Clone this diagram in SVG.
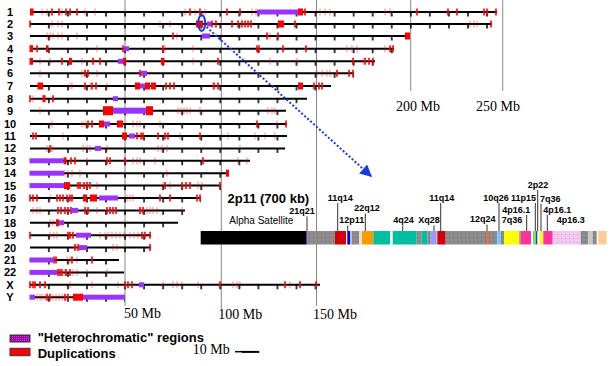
<svg xmlns="http://www.w3.org/2000/svg" width="610" height="366" viewBox="0 0 610 366">
<style>
.c{stroke:#000;stroke-width:2}
.t{fill:url(#tk)}
.s{stroke:#f00;stroke-width:1.6;fill:none}
.k{stroke:#f00;stroke-width:1.6;fill:none;opacity:.3}
.d{fill:#f00}
.h{fill:#9933ff}
.n{font:bold 11px "Liberation Sans",Arial,sans-serif;text-anchor:middle}
.g{stroke:#888;stroke-width:1}
.mb{font:14px "Liberation Serif","Times New Roman",serif}
.bl{font:bold 9px "Liberation Sans",Arial,sans-serif}
.ll{stroke:#333;stroke-width:1}
.lg{font:bold 13px "Liberation Sans",Arial,sans-serif}
</style>
<defs>
<pattern id="tk" patternUnits="userSpaceOnUse" x="20.275" y="0" width="19.05" height="20"><rect x="8.775" y="0" width="1.5" height="20" fill="#000"/></pattern>
<pattern id="gd" patternUnits="userSpaceOnUse" width="4" height="4"><rect width="4" height="4" fill="#8c8c8c"/><rect x="1" y="1" width="1" height="1" fill="#6e6e6e"/></pattern>
<pattern id="lv" patternUnits="userSpaceOnUse" width="4" height="4"><rect width="4" height="4" fill="#f0c8f0"/><rect x="1" y="2" width="1" height="1" fill="#e890e0"/></pattern>
<pattern id="hp" patternUnits="userSpaceOnUse" width="2" height="2"><rect width="2" height="2" fill="#9900aa"/><rect width="1" height="1" fill="#cc44cc"/></pattern>
<marker id="ar" markerUnits="userSpaceOnUse" markerWidth="14" markerHeight="12" refX="12" refY="6" orient="auto"><path d="M0,0 L12,6 L0,12 Z" fill="#1a3ae0"/></marker>
</defs>

<g id="grid">
<line class="g" x1="125" y1="0" x2="125" y2="306"/>
<line class="g" x1="221.3" y1="0" x2="221.3" y2="310"/>
<line class="g" x1="316.5" y1="0" x2="316.5" y2="306"/>
<line class="g" x1="410.7" y1="0" x2="410.7" y2="91"/>
<line class="g" x1="502.7" y1="0" x2="502.7" y2="91"/>
<text class="mb" x="124" y="318">50 Mb</text>
<text class="mb" x="218.3" y="319">100 Mb</text>
<text class="mb" x="313" y="319">150 Mb</text>
<text class="mb" x="396" y="111">200 Mb</text>
<text class="mb" x="476" y="111">250 Mb</text>
</g>

<g id="chr1" transform="translate(0,12)">
<line class="c" x1="30" x2="497"/><rect class="t" x="40" width="457" height="4.5"/>
<path class="k" d="M42-3.5v7M47-3.5v7M62-3.5v7M85-3.5v7M95-3.5v7M185-3.5v7M195-3.5v7M205-3.5v7M252-3.5v7M256-3.5v7M320-3.5v7M325-3.5v7M330-3.5v7M385-3.5v7M390-3.5v7"/>
<path class="s" d="M52-3.5v7M59-3.5v7M66-3.5v7M70-3.5v7M77-3.5v7M190-3.5v7M200-3.5v7M227-3.5v7M240-3.5v7M305-3.5v7M417-3.5v7M448-3.5v7M457-3.5v7M484-3.5v7M487-3.5v7M496-3.5v7"/>
<rect class="d" x="30" y="-3.5" width="3.5" height="7"/><rect class="d" x="298" y="-3.5" width="5" height="7"/>
<rect class="h" x="257" y="-2.5" width="41" height="5"/>
<text class="n" x="10" y="4">1</text>
</g>

<g id="chr2" transform="translate(0,24)">
<line class="c" x1="30" x2="492"/><rect class="t" x="40" width="452" height="4.5"/>
<path class="k" d="M52-3.5v7M58-3.5v7M62-3.5v7M160-3.5v7M170-3.5v7M470-3.5v7M474-3.5v7M477-3.5v7"/>
<path class="s" d="M30-3.5v7M212-3.5v7M216-3.5v7M232-3.5v7M238-3.5v7M242-3.5v7M245-3.5v7M248-3.5v7M251-3.5v7M295-3.5v7M491-3.5v7"/>
<rect class="d" x="196" y="-3.5" width="7" height="7"/><rect class="d" x="278" y="-3.5" width="6" height="7"/>
<rect class="h" x="207" y="-2.5" width="4" height="5"/>
<text class="n" x="10" y="4">2</text>
</g>

<g id="chr3" transform="translate(0,36)">
<line class="c" x1="30" x2="410"/><rect class="t" x="40" width="370" height="4.5"/>
<path class="k" d="M47-3.5v7M50-3.5v7M53-3.5v7M58-3.5v7M62-3.5v7M77-3.5v7M177-3.5v7M270-3.5v7"/>
<path class="s" d="M173-3.5v7M267-3.5v7M278-3.5v7"/>
<rect class="d" x="405" y="-3.5" width="5" height="7"/>
<rect class="h" x="201.7" y="-2.5" width="8.3" height="5"/>
<text class="n" x="10" y="4">3</text>
</g>

<g id="chr4" transform="translate(0,48.7)">
<line class="c" x1="30" x2="394"/><rect class="t" x="40" width="354" height="4.5"/>
<path class="k" d="M97-3.5v7M165-3.5v7M193-3.5v7M347-3.5v7M352-3.5v7M357-3.5v7M385-3.5v7"/>
<path class="s" d="M37-3.5v7M123-3.5v7M163-3.5v7M257-3.5v7M259-3.5v7M283-3.5v7M306-3.5v7M390-3.5v7M393-3.5v7"/>
<rect class="d" x="29.5" y="-3.5" width="3.5" height="7"/><rect class="d" x="46" y="-3.5" width="2.5" height="7"/>
<rect class="h" x="124" y="-2.5" width="5" height="5"/>
<text class="n" x="10" y="4">4</text>
</g>

<g id="chr5" transform="translate(0,61.3)">
<line class="c" x1="30" x2="375"/><rect class="t" x="40" width="335" height="4.5"/>
<path class="k" d="M40-3.5v7M50-3.5v7M82-3.5v7M193-3.5v7M270-3.5v7M297-3.5v7M363-3.5v7"/>
<path class="s" d="M62-3.5v7M93-3.5v7M100-3.5v7M218-3.5v7M353-3.5v7M365-3.5v7M369-3.5v7M373-3.5v7"/>
<rect class="d" x="29.5" y="-3.5" width="3.5" height="7"/><rect class="d" x="69" y="-3.5" width="3" height="7"/><rect class="d" x="123" y="-3.5" width="3" height="7"/><rect class="d" x="161" y="-3.5" width="3.5" height="7"/>
<rect class="h" x="118" y="-2.5" width="5" height="5"/>
<text class="n" x="10" y="4">5</text>
</g>

<g id="chr6" transform="translate(0,73.3)">
<line class="c" x1="30" x2="354"/><rect class="t" x="40" width="314" height="4.5"/>
<path class="k" d="M40-3.5v7M82-3.5v7M97-3.5v7M317-3.5v7M322-3.5v7M327-3.5v7M330-3.5v7"/>
<path class="s" d="M85-3.5v7M88-3.5v7M140-3.5v7M337-3.5v7M349-3.5v7M353-3.5v7"/>
<rect class="h" x="141" y="-2.5" width="6" height="5"/>
<text class="n" x="10" y="4">6</text>
</g>

<g id="chr7" transform="translate(0,86)">
<line class="c" x1="30" x2="331"/><rect class="t" x="40" width="291" height="4.5"/>
<path class="k" d="M70-3.5v7M72-3.5v7M90-3.5v7M107-3.5v7M213-3.5v7"/>
<path class="s" d="M85-3.5v7M92-3.5v7M96-3.5v7M166-3.5v7M170-3.5v7M174-3.5v7M214-3.5v7M218-3.5v7M314-3.5v7M319-3.5v7M322-3.5v7"/>
<rect class="d" x="37.5" y="-3.5" width="5.5" height="7"/><rect class="d" x="135" y="-3.5" width="5" height="7"/><rect class="d" x="145" y="-3.5" width="5" height="7"/><rect class="d" x="151" y="-3.5" width="5" height="7"/><rect class="d" x="298" y="-3.5" width="5" height="7"/>
<rect class="h" x="140" y="-2.5" width="5" height="5"/>
<text class="n" x="10" y="4">7</text>
</g>

<g id="chr8" transform="translate(0,98.7)">
<line class="c" x1="30" x2="307"/><rect class="t" x="40" width="267" height="4.5"/>
<path class="k" d="M33-3.5v7"/>
<path class="s" d="M30-3.5v7M53-3.5v7"/>
<rect class="d" x="42.5" y="-3.5" width="3" height="7"/>
<rect class="h" x="113" y="-2.5" width="5" height="5"/>
<text class="n" x="10" y="4">8</text>
</g>

<g id="chr9" transform="translate(0,110.7)">
<line class="c" x1="30" x2="286"/><rect class="t" x="40" width="246" height="4.5"/>
<path class="k" d="M40-3.5v7M178-3.5v7M181-3.5v7M184-3.5v7M187-3.5v7M190-3.5v7M200-3.5v7M268-3.5v7M272-3.5v7M275-3.5v7"/>
<rect class="d" x="103" y="-4.5" width="10" height="9"/><rect class="d" x="146" y="-4.5" width="7" height="9"/>
<rect class="h" x="113" y="-3" width="33" height="6"/>
<text class="n" x="10" y="4">9</text>
</g>

<g id="chr10" transform="translate(0,124)">
<line class="c" x1="30" x2="287"/><rect class="t" x="40" width="247" height="4.5"/>
<path class="k" d="M52-3.5v7M82-3.5v7M85-3.5v7M133-3.5v7M137-3.5v7M140-3.5v7M160-3.5v7M277-3.5v7"/>
<path class="s" d="M88-3.5v7M92-3.5v7M257-3.5v7M286-3.5v7"/>
<rect class="d" x="99" y="-3.5" width="5" height="7"/><rect class="d" x="117" y="-3.5" width="6" height="7"/>
<rect class="h" x="104" y="-2.5" width="6" height="5"/>
<text class="n" x="10" y="4">10</text>
</g>

<g id="chr11" transform="translate(0,136)">
<line class="c" x1="30" x2="287"/><rect class="t" x="40" width="247" height="4.5"/>
<path class="k" d="M63-3.5v7M180-3.5v7M228-3.5v7M255-3.5v7M265-3.5v7M275-3.5v7"/>
<path class="s" d="M33-3.5v7M36-3.5v7M137-3.5v7M141-3.5v7M143-3.5v7M158-3.5v7M165-3.5v7M168-3.5v7M200-3.5v7"/>
<rect class="d" x="122" y="-3.5" width="5" height="7"/>
<rect class="h" x="129" y="-2.5" width="6" height="5"/>
<text class="n" x="10" y="4">11</text>
</g>

<g id="chr12" transform="translate(0,148.4)">
<line class="c" x1="30" x2="285"/><rect class="t" x="40" width="245" height="4.5"/>
<path class="k" d="M47-3.5v7M52-3.5v7M83-3.5v7M87-3.5v7M90-3.5v7M107-3.5v7M158-3.5v7M162-3.5v7M167-3.5v7M240-3.5v7"/>
<path class="s" d="M50-3.5v7"/>
<rect class="h" x="95" y="-2.5" width="6" height="5"/>
<text class="n" x="10" y="4">12</text>
</g>

<g id="chr13" transform="translate(0,160.8)">
<line class="c" x1="30" x2="250"/><rect class="t" x="40" width="210" height="4.5"/>
<path class="k" d="M87-3.5v7M133-3.5v7M137-3.5v7M140-3.5v7M155-3.5v7M238-3.5v7M247-3.5v7"/>
<path class="s" d="M71-3.5v7M75-3.5v7M107-3.5v7M110-3.5v7M125-3.5v7M203-3.5v7"/>
<rect class="d" x="63.5" y="-3.5" width="3" height="7"/>
<rect class="h" x="29.5" y="-2.5" width="34" height="5"/>
<text class="n" x="10" y="4">13</text>
</g>

<g id="chr14" transform="translate(0,173.2)">
<line class="c" x1="30" x2="229"/><rect class="t" x="40" width="189" height="4.5"/>
<path class="k" d="M65-3.5v7M68-3.5v7M72-3.5v7M80-3.5v7M167-3.5v7"/>
<rect class="d" x="226" y="-3.5" width="3" height="7"/>
<rect class="h" x="29.5" y="-2.5" width="34.5" height="5"/>
<text class="n" x="10" y="4">14</text>
</g>

<g id="chr15" transform="translate(0,185.6)">
<line class="c" x1="30" x2="221"/><rect class="t" x="40" width="181" height="4.5"/>
<path class="k" d="M97-3.5v7M163-3.5v7M170-3.5v7M198-3.5v7M202-3.5v7"/>
<path class="s" d="M78-3.5v7M80-3.5v7M84-3.5v7M87-3.5v7M90-3.5v7M165-3.5v7M182-3.5v7M186-3.5v7M190-3.5v7M220-3.5v7"/>
<rect class="d" x="64" y="-3.5" width="6" height="7"/>
<rect class="h" x="29.5" y="-2.5" width="34.5" height="5"/>
<text class="n" x="10" y="4">15</text>
</g>

<g id="chr16" transform="translate(0,198)">
<line class="c" x1="30" x2="201"/><rect class="t" x="40" width="161" height="4.5"/>
<path class="k" d="M50-3.5v7M127-3.5v7M130-3.5v7M133-3.5v7"/>
<path class="s" d="M30-3.5v7M33-3.5v7M37-3.5v7M57-3.5v7M60-3.5v7M63-3.5v7M67-3.5v7M70-3.5v7M72-3.5v7M160-3.5v7M170-3.5v7M197-3.5v7M200-3.5v7"/>
<rect class="d" x="83" y="-3.5" width="4" height="7"/><rect class="d" x="90" y="-3.5" width="7" height="7"/>
<rect class="h" x="99" y="-2.5" width="19" height="5"/>
<text class="n" x="10" y="4">16</text>
</g>

<g id="chr17" transform="translate(0,210.4)">
<line class="c" x1="30" x2="185"/><rect class="t" x="40" width="145" height="4.5"/>
<path class="k" d="M33-3.5v7M37-3.5v7M40-3.5v7M97-3.5v7M147-3.5v7M150-3.5v7M153-3.5v7M157-3.5v7M182-3.5v7"/>
<path class="s" d="M58-3.5v7M61-3.5v7M65-3.5v7M68-3.5v7M71-3.5v7M85-3.5v7M88-3.5v7M107-3.5v7M110-3.5v7M113-3.5v7M116-3.5v7M140-3.5v7M143-3.5v7"/>
<rect class="h" x="71" y="-2.5" width="7" height="5"/>
<text class="n" x="10" y="4">17</text>
</g>

<g id="chr18" transform="translate(0,222.8)">
<line class="c" x1="30" x2="178"/><rect class="t" x="40" width="138" height="4.5"/>
<path class="k" d="M50-3.5v7M53-3.5v7"/>
<rect class="d" x="56" y="-3.5" width="3" height="7"/>
<rect class="h" x="59" y="-2.5" width="5" height="5"/>
<text class="n" x="10" y="4">18</text>
</g>

<g id="chr19" transform="translate(0,235.2)">
<line class="c" x1="30" x2="151"/><rect class="t" x="40" width="111" height="4.5"/>
<path class="k" d="M50-3.5v7M54-3.5v7M57-3.5v7M100-3.5v7M105-3.5v7M108-3.5v7M112-3.5v7M116-3.5v7M120-3.5v7M124-3.5v7M130-3.5v7M134-3.5v7M138-3.5v7"/>
<path class="s" d="M30-3.5v7M68-3.5v7M70-3.5v7M73-3.5v7M142-3.5v7M145-3.5v7M150-3.5v7"/>
<rect class="h" x="76" y="-2.5" width="15" height="5"/>
<text class="n" x="10" y="4">19</text>
</g>

<g id="chr20" transform="translate(0,247.6)">
<line class="c" x1="30" x2="151"/><rect class="t" x="40" width="111" height="4.5"/>
<path class="k" d="M113-3.5v7M117-3.5v7"/>
<path class="s" d="M75-3.5v7M78-3.5v7M150-3.5v7"/>
<rect class="h" x="79" y="-2.5" width="8" height="5"/>
<text class="n" x="10" y="4">20</text>
</g>

<g id="chr21" transform="translate(0,260)">
<line class="c" x1="30" x2="119"/><rect class="t" x="40" width="79" height="4.5"/>
<path class="k" d="M67-3.5v7M70-3.5v7M77-3.5v7"/>
<path class="s" d="M54-3.5v7M56-3.5v7M72-3.5v7M92-3.5v7"/>
<rect class="h" x="29.5" y="-2.5" width="24.5" height="5"/>
<text class="n" x="10" y="4">21</text>
</g>

<g id="chr22" transform="translate(0,272.4)">
<line class="c" x1="30" x2="124"/><rect class="t" x="40" width="84" height="4.5"/>
<path class="k" d="M65-3.5v7M73-3.5v7M77-3.5v7M87-3.5v7M107-3.5v7"/>
<path class="s" d="M58-3.5v7M60-3.5v7M62-3.5v7M66-3.5v7M70-3.5v7"/>
<rect class="h" x="29.5" y="-2.5" width="27.5" height="5"/>
<text class="n" x="10" y="4">22</text>
</g>

<g id="chrX" transform="translate(0,284.8)">
<line class="c" x1="30" x2="320"/><rect class="t" x="40" width="280" height="4.5"/>
<path class="k" d="M70-3.5v7M92-3.5v7M118-3.5v7M163-3.5v7M173-3.5v7M177-3.5v7M182-3.5v7M198-3.5v7M233-3.5v7M237-3.5v7M240-3.5v7M290-3.5v7"/>
<path class="s" d="M30-3.5v7M33-3.5v7M35-3.5v7M40-3.5v7M45-3.5v7M125-3.5v7M128-3.5v7M132-3.5v7M220-3.5v7M285-3.5v7M300-3.5v7M316-3.5v7"/>
<rect class="h" x="139" y="-2.5" width="5" height="5"/>
<text class="n" x="10" y="4">X</text>
</g>

<g id="chrY" transform="translate(0,297.2)">
<line class="c" x1="30" x2="125"/><rect class="t" x="40" width="85" height="4.5"/>
<path class="k" d="M37-3.5v7M40-3.5v7M42-3.5v7M45-3.5v7M53-3.5v7M56-3.5v7M59-3.5v7M62-3.5v7"/>
<path class="s" d="M47-3.5v7M50-3.5v7M65-3.5v7M68-3.5v7"/>
<rect class="d" x="73" y="-3.5" width="10" height="7"/>
<rect class="h" x="29.5" y="-2.5" width="5.5" height="5"/><rect class="h" x="83" y="-2.5" width="42" height="5"/>
<text class="n" x="10" y="4">Y</text>
</g>

<g id="connectors">
<ellipse cx="201.7" cy="23" rx="3.5" ry="8" fill="none" stroke="#1a3ae0" stroke-width="2"/>
<line x1="206.5" y1="27" x2="372" y2="177" stroke="#1a3ae0" stroke-width="2" stroke-dasharray="2 2" marker-end="url(#ar)"/>
</g>

<g id="bar">
<rect x="200.7" y="231" width="106" height="13.5" fill="#000"/>
<rect x="306.7" y="231" width="1" height="13.5" fill="#9933ff"/>
<rect x="307.7" y="231" width="27.3" height="13.5" fill="url(#gd)"/>
<rect x="335" y="231" width="11" height="13.5" fill="#d40000"/>
<rect x="347.3" y="231" width="2.7" height="13.5" fill="#0000dd"/>
<rect x="350" y="231" width="2" height="13.5" fill="#c0c0c0"/>
<rect x="352" y="231" width="7" height="13.5" fill="url(#gd)"/>
<rect x="359" y="231" width="3" height="13.5" fill="#e0e0e0"/>
<rect x="362" y="231" width="11.3" height="13.5" fill="#ff9900"/>
<rect x="373.3" y="231" width="16.7" height="13.5" fill="#00bfa0"/>
<rect x="392.7" y="231" width="24" height="13.5" fill="#00bfa0"/>
<rect x="416.7" y="231" width="5" height="13.5" fill="url(#gd)"/>
<rect x="421.7" y="231" width="5.6" height="13.5" fill="#00bfa0"/>
<rect x="427.3" y="231" width="3.4" height="13.5" fill="url(#gd)"/>
<rect x="430.7" y="231" width="6" height="13.5" fill="#9999ff"/>
<rect x="437.3" y="231" width="7.7" height="13.5" fill="#d40000"/>
<rect x="445" y="231" width="41" height="13.5" fill="url(#gd)"/>
<rect x="486" y="231" width="2" height="13.5" fill="#ff6633"/>
<rect x="488" y="231" width="9.3" height="13.5" fill="url(#gd)"/>
<rect x="497.3" y="231" width="3.4" height="13.5" fill="#66ccff"/>
<rect x="500.7" y="231" width="3.3" height="13.5" fill="url(#gd)"/>
<rect x="504" y="231" width="15.3" height="13.5" fill="#ffff00"/>
<rect x="519.3" y="231" width="1.4" height="13.5" fill="url(#gd)"/>
<rect x="520.7" y="231" width="10.3" height="13.5" fill="#ff3399"/>
<rect x="533.3" y="231" width="1" height="13.5" fill="#888"/>
<rect x="534.3" y="231" width="1.7" height="13.5" fill="#33ff33"/>
<rect x="536" y="231" width="1.3" height="13.5" fill="#3333ff"/>
<rect x="539.3" y="231" width="3.4" height="13.5" fill="#ffff00"/>
<rect x="543.3" y="231" width="9.4" height="13.5" fill="#ff3399"/>
<rect x="552.7" y="231" width="28" height="13.5" fill="url(#lv)"/>
<rect x="580.7" y="231" width="7.6" height="13.5" fill="url(#gd)"/>
<rect x="588.3" y="231" width="4.4" height="13.5" fill="#c8c8c8"/>
<rect x="592.7" y="231" width="4" height="13.5" fill="url(#gd)"/>
<rect x="598.3" y="231" width="8.4" height="13.5" fill="#ffcc99"/>
</g>

<g id="bar-labels">
<text x="227.5" y="203.3" style="font:bold 13px 'Liberation Sans',Arial,sans-serif">2p11 (700 kb)</text>
<text x="229.3" y="224.3" style="font:10px 'Liberation Sans',Arial,sans-serif">Alpha Satellite</text>
<text class="bl" x="289.3" y="214">21q21</text><line class="ll" x1="307" y1="216.5" x2="307" y2="231"/>
<text class="bl" x="327.7" y="201">11q14</text><line class="ll" x1="337.7" y1="203" x2="337.7" y2="231"/>
<text class="bl" x="339.3" y="223.3">12p11</text><line class="ll" x1="347.7" y1="225.5" x2="347.7" y2="231"/>
<text class="bl" x="354.3" y="211">22q12</text><line class="ll" x1="365.3" y1="213.5" x2="365.3" y2="231"/>
<text class="bl" x="393.3" y="223.3">4q24</text><line class="ll" x1="402.7" y1="225.5" x2="402.7" y2="231"/>
<text class="bl" x="418.3" y="223.3">Xq28</text><line class="ll" x1="434" y1="225.5" x2="434" y2="231"/>
<text class="bl" x="429.3" y="201">11q14</text><line class="ll" x1="440.7" y1="203" x2="440.7" y2="231"/>
<text class="bl" x="470" y="222.3">12q24</text><line class="ll" x1="487" y1="224.5" x2="487" y2="231"/>
<text class="bl" x="483.3" y="201">10q26</text><line class="ll" x1="499" y1="203" x2="499" y2="231"/>
<text class="bl" x="502.3" y="212.7">4p16.1</text><line class="ll" x1="526.7" y1="215" x2="526.7" y2="231"/>
<text class="bl" x="501.7" y="223.3">7q36</text>
<text class="bl" x="511" y="201">11p15</text><line class="ll" x1="535.3" y1="203" x2="535.3" y2="231"/>
<text class="bl" x="527.7" y="187.7">2p22</text><line class="ll" x1="537.7" y1="190" x2="537.7" y2="231"/>
<text class="bl" x="540" y="201.7">7q36</text><line class="ll" x1="541" y1="203.5" x2="541" y2="231"/>
<text class="bl" x="543.3" y="212.7">4p16.1</text><line class="ll" x1="547.3" y1="215" x2="547.3" y2="231"/>
<text class="bl" x="556.7" y="222.7">4p16.3</text>
</g>

<g id="legend">
<rect x="10" y="335" width="20" height="7" fill="url(#hp)" stroke="#333" stroke-width="1"/>
<rect x="10" y="348.3" width="20" height="7.4" fill="#ff0000" stroke="#333" stroke-width="1"/>
<text class="lg" x="37.7" y="342">"Heterochromatic" regions</text>
<text class="lg" x="37.7" y="358">Duplications</text>
<text class="mb" x="192.7" y="354.3">10 Mb</text>
<line x1="235" y1="351.7" x2="244" y2="351.7" stroke="#000" stroke-width="1.5"/>
<line x1="242" y1="351.9" x2="259.3" y2="351.9" stroke="#000" stroke-width="2"/>
</g>
</svg>
